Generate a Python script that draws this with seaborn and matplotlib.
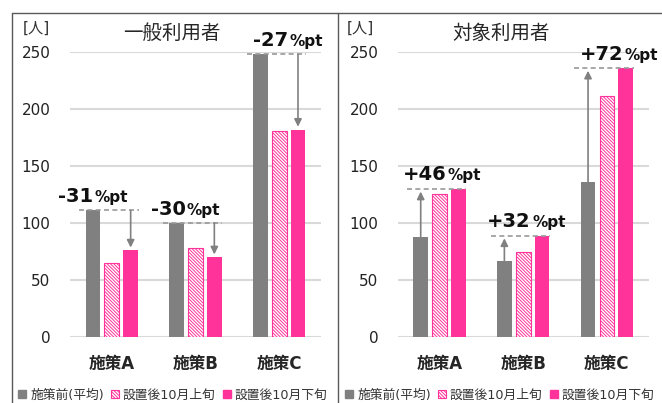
import matplotlib
matplotlib.use('Agg')
import matplotlib.pyplot as plt
from matplotlib.patches import Patch
from matplotlib.lines import Line2D
import seaborn as sns
import pandas as pd

# --- data ---
measures = ['施策A', '施策B', '施策C']
series = ['施策前(平均)', '設置後10月上旬', '設置後10月下旬']
panel_titles = ['一般利用者', '対象利用者']

general_before = [111, 100, 248]
general_early = [65, 78, 181]
general_late = [76, 70, 182]

target_before = [88, 67, 136]
target_early = [125, 75, 211]
target_late = [130, 89, 236]

general_change = ['-31', '-30', '-27']
target_change = ['+46', '+32', '+72']

y_ticks = [0, 50, 100, 150, 200, 250]
unit_label = '[人]'

# --- style ---
GRAY = '#808080'
PINK = '#FF3399'
HATCH = '\\' * 10
W, H = 662, 403

sns.set_theme(style='white')
plt.rcParams['font.family'] = ['DejaVu Sans', 'Noto Sans CJK JP']
plt.rcParams['hatch.linewidth'] = 0.7

fig = plt.figure(figsize=(W / 100, H / 100), dpi=100)


def draw_panel(ax, before, early, late, change, label_dx):
    df = pd.DataFrame({
        '施策': measures * 3,
        '区分': [s for s in series for _ in measures],
        '人数': before + early + late,
    })
    sns.barplot(data=df, x='施策', y='人数', hue='区分', order=measures, hue_order=series,
                palette=[GRAY, PINK, PINK], width=0.675, gap=0.22, saturation=1,
                errorbar=None, legend=False, linewidth=0, ax=ax)
    for bar in ax.containers[1]:
        bar.set_facecolor('white')
        bar.set_edgecolor(PINK)
        bar.set_hatch(HATCH)
        bar.set_linewidth(0.8)

    ax.set_ylim(0, 250)
    ax.set_xlim(-0.5, 2.5)
    ax.set_yticks(y_ticks)
    ax.yaxis.grid(True, color='#D9D9D9', lw=1.5)
    ax.set_axisbelow(True)
    sns.despine(ax=ax, left=True, bottom=True)
    ax.tick_params(axis='y', length=0, pad=14, labelsize=11, labelcolor='#222222')
    ax.tick_params(axis='x', length=0, pad=13, labelsize=12)
    for t in ax.get_xticklabels():
        t.set_fontweight('bold')
    ax.set_xlabel('')
    ax.set_ylabel('')

    for i in range(len(measures)):
        if late[i] < before[i]:
            level = before[i]
            arrow_x = i + 0.225
        else:
            level = late[i]
            arrow_x = i - 0.225
        ax.plot([i - 0.39, i + 0.32], [level, level], color='#999999', lw=1.2,
                ls=(0, (3, 2)), zorder=4)
        ax.annotate('', xy=(arrow_x, late[i]), xytext=(arrow_x, before[i]),
                    arrowprops=dict(arrowstyle='-|>', color=GRAY, lw=1.2,
                                    mutation_scale=11, shrinkA=0, shrinkB=2),
                    zorder=5)
        ax.annotate(change[i], xy=(i + label_dx[i], level), xytext=(0, 6),
                    textcoords='offset points', ha='right', va='baseline',
                    fontsize=14, fontweight='bold', color='#111111')
        ax.annotate('%pt', xy=(i + label_dx[i], level), xytext=(1, 6),
                    textcoords='offset points', ha='left', va='baseline',
                    fontsize=11, fontweight='bold', color='#111111')


ax_left = fig.add_axes([70 / W, (H - 337) / H, 251 / W, 285 / H])
ax_right = fig.add_axes([397.7 / W, (H - 337) / H, 251 / W, 285 / H])

draw_panel(ax_left, general_before, general_early, general_late, general_change,
           [-0.22, -0.12, 0.11])
draw_panel(ax_right, target_before, target_early, target_late, target_change,
           [0.08, 0.09, 0.2])

# titles and unit labels
fig.text(172 / W, 1 - 33 / H, panel_titles[0], ha='center', va='center', fontsize=14)
fig.text(501 / W, 1 - 33 / H, panel_titles[1], ha='center', va='center', fontsize=14)
fig.text(36 / W, 1 - 28 / H, unit_label, ha='center', va='center', fontsize=11, color='#333333')
fig.text(360 / W, 1 - 28 / H, unit_label, ha='center', va='center', fontsize=11, color='#333333')

# panel frame lines
line_kw = dict(color='#595959', lw=1, transform=fig.transFigure)
fig.add_artist(Line2D([12 / W, 1], [1 - 13 / H, 1 - 13 / H], **line_kw))
fig.add_artist(Line2D([12 / W, 12 / W], [0, 1 - 13 / H], **line_kw))
fig.add_artist(Line2D([338 / W, 338 / W], [0, 1 - 13 / H], **line_kw))

# legends, one per panel
handles = [Patch(facecolor=GRAY, edgecolor=GRAY),
           Patch(facecolor='white', edgecolor=PINK, hatch=HATCH, lw=0.8),
           Patch(facecolor=PINK, edgecolor=PINK)]
for x0 in (18, 345):
    fig.legend(handles, series, loc='center left', bbox_to_anchor=(x0 / W, 1 - 395 / H),
               ncol=3, frameon=False, fontsize=9.2, handlelength=0.65, handleheight=0.65,
               handletextpad=0.3, columnspacing=0.55, borderpad=0, borderaxespad=0,
               labelcolor='#333333')

fig.savefig('out.png', dpi=100)
